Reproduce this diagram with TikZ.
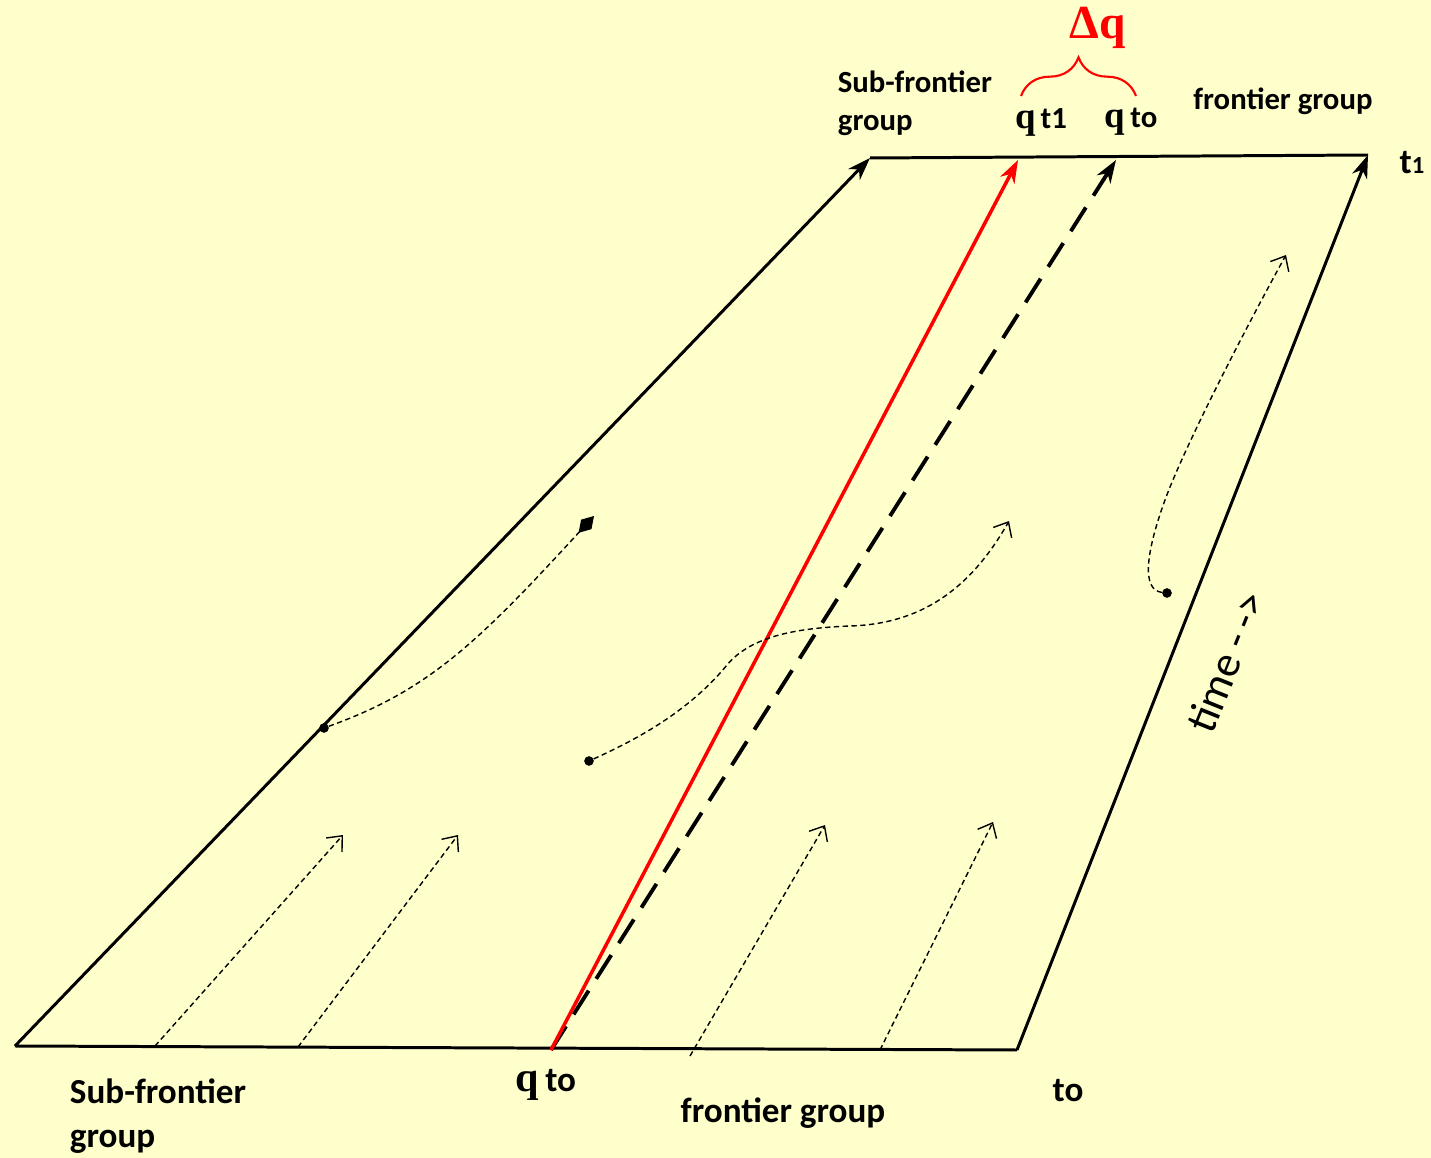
\documentclass[tikz,border=0pt]{standalone}
\usepackage{fontspec}
\setmainfont{Carlito}
\newfontfamily\qserif{Liberation Serif}
\usepackage{tikz}
\usetikzlibrary{arrows.meta,decorations.pathreplacing}
\definecolor{bgyellow}{HTML}{FFFFCC}
\definecolor{qred}{HTML}{FF0000}

\begin{document}
\begin{tikzpicture}[x=0.02cm, y=-0.02cm,
  edge/.style={draw=black, line width=1.7pt, -{Stealth[length=13pt,width=9pt,inset=4pt]}},
  trail/.style={draw=black, line width=0.8pt, dash pattern=on 3pt off 2pt,
                -{Straight Barb[length=7pt,width=12pt]}},
  dot/.style={circle, fill=black, inner sep=0pt, minimum size=5.5pt},
  lbl/.style={inner sep=0pt, align=left, font=\bfseries\fontsize{17.5}{21.5}\selectfont},
  biglbl/.style={inner sep=0pt, align=left, font=\bfseries\fontsize{20}{25}\selectfont}
]
\fill[bgyellow] (0,0) rectangle (1431,1158);
\useasboundingbox (0,0) rectangle (1431,1158);

%% corners of the time band
\coordinate (bl) at (15,1046);
\coordinate (br) at (1017,1050);
\coordinate (tl) at (870,158);
\coordinate (tr) at (1368,155);
\coordinate (q0) at (551,1050);
\coordinate (qt1) at (1018,160);
\coordinate (qt0) at (1116,160);

\draw[line width=1.7pt] (bl) -- (br);
\draw[line width=1.7pt] (tl) -- (tr);
\draw[edge] (bl) -- (tl);
\draw[edge] (br) -- (tr);
\draw[edge, line width=2.2pt, dash pattern=on 16pt off 8pt] (q0) -- (qt0);
\draw[edge, draw=qred, line width=2pt, -{Stealth[length=13pt,width=9pt,inset=4pt,fill=qred]}] (q0) -- (qt1);

%% straight trajectories from the bottom
\foreach \i/\sx/\sy/\ex/\ey in {1/155/1046/343/835, 2/298/1047/458/835,
                               3/690/1056/825/825, 4/880/1050/993/822} {
  \coordinate (s\i) at (\sx,\sy);
  \coordinate (e\i) at (\ex,\ey);
  \draw[trail] (s\i) -- (e\i);
}

%% curved trajectories
\node[dot] (d1) at (324,728) {};
\node[dot] (d2) at (589,761) {};
\node[dot] (d3) at (1167,593) {};
\coordinate (f1) at (594,516);
\coordinate (f2) at (1009,521);
\coordinate (f3) at (1286,255);
\draw[trail, -{Diamond[length=13pt,width=8pt]}] (d1)
  .. controls (430,690) and (480,640) .. (f1);
\draw[trail] (d2) .. controls (640,738) and (690,710) .. (727,665)
  .. controls (752,635) and (800,628) .. (850,626)
  .. controls (920,624) and (970,590) .. (f2);
\draw[trail] (d3) .. controls (1142,590) and (1145,555) .. (1165,500)
  .. controls (1185,445) and (1250,320) .. (f3);

%% labels
\node[lbl] (subtop) at (915,103) {Sub-frontier\\group};
\node[lbl] (qtonelbl) at (1041,122) {{\qserif\fontsize{21}{21}\selectfont q}\,t1};
\node[lbl] (qtolbl) at (1131,122) {{\qserif\fontsize{21}{21}\selectfont q}\,to};
\node[lbl] (fronttop) at (1283,101) {frontier group};
\node[biglbl] (tone) at (1412,163) {t{\fontsize{14}{14}\selectfont 1}};
\draw[draw=qred, line width=1.2pt, decorate,
      decoration={brace, amplitude=22pt}] (1021,96) -- (1136,96);
\node[inner sep=0pt, text=qred, font=\qserif\bfseries\fontsize{27}{27}\selectfont] (dq) at (1098,28) {Δq};

\node[biglbl] (subbot) at (158,1116) {Sub-frontier\\group};
\node[biglbl] (qbot) at (546,1085) {{\qserif\fontsize{24}{24}\selectfont q}\,to};
\node[biglbl] (frontbot) at (783,1113) {frontier group};
\node[biglbl] (tobot) at (1068,1091) {to};
\node[inner sep=0pt, rotate=68, font=\fontsize{25}{25}\selectfont] (time) at (1226,662) {time -\,-{}>};
\end{tikzpicture}
\end{document}
